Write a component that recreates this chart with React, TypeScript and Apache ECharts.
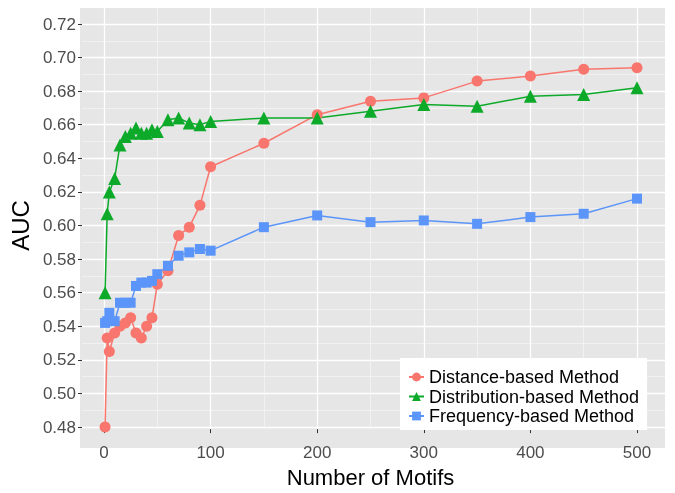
import React, { useEffect, useRef } from "react";
import * as echarts from "echarts";

const motifCounts = [1, 3, 5, 10, 15, 20, 25, 30, 35, 40, 45, 50, 60, 70, 80, 90, 100, 150, 200, 250, 300, 350, 400, 450, 500];
const distanceAUC = [0.48, 0.533, 0.525, 0.536, 0.540, 0.542, 0.545, 0.536, 0.533, 0.540, 0.545, 0.565, 0.573, 0.594, 0.599, 0.612, 0.635, 0.649, 0.666, 0.674, 0.676, 0.686, 0.689, 0.693, 0.694];
const distributionAUC = [0.560, 0.607, 0.620, 0.628, 0.648, 0.653, 0.655, 0.658, 0.655, 0.655, 0.657, 0.656, 0.663, 0.664, 0.661, 0.660, 0.662, 0.664, 0.664, 0.668, 0.672, 0.671, 0.677, 0.678, 0.682];
const frequencyAUC = [0.542, 0.543, 0.548, 0.543, 0.554, 0.554, 0.554, 0.564, 0.566, 0.566, 0.567, 0.571, 0.576, 0.582, 0.584, 0.586, 0.585, 0.599, 0.606, 0.602, 0.603, 0.601, 0.605, 0.607, 0.616];
const seriesNames = ["Distance-based Method", "Distribution-based Method", "Frequency-based Method"];
const xTicks = [0, 100, 200, 300, 400, 500];
const yTicks = [0.48, 0.5, 0.52, 0.54, 0.56, 0.58, 0.6, 0.62, 0.64, 0.66, 0.68, 0.7, 0.72];

const FONT = "Liberation Sans, Arial, sans-serif";

export default function App() {
  const ref = useRef<HTMLDivElement>(null);
  useEffect(() => {
    if (!ref.current) return;
    const chart = echarts.init(ref.current, null, { renderer: "svg" });
    const colors = ["#F8766D", "#0DAA2A", "#5B95F9"];
    const symbols = ["circle", "triangle", "rect"];
    const sizes = [11, 13, 10];
    const values = [distanceAUC, distributionAUC, frequencyAUC];
    const xMin = xTicks[0], xMax = xTicks[xTicks.length - 1];
    const yMin = yTicks[0], yMax = yTicks[yTicks.length - 1];
    const hiddenAxis = (gridIndex: number, min?: number, max?: number) => ({
      type: "value", gridIndex, min, max, show: false, splitLine: { show: false },
    });
    chart.setOption({
      animation: false,
      grid: [
        { left: 80, top: 8, width: 585, height: 440, show: true, backgroundColor: "#E6E6E6", borderWidth: 0 },
        { left: 104, top: 24, width: 533, height: 403 },
        { left: 104, top: 8, width: 533, height: 440 },
        { left: 80, top: 24, width: 585, height: 403 },
      ],
      xAxis: [
        hiddenAxis(0, 0, 1),
        hiddenAxis(1, xMin, xMax),
        {
          type: "value", gridIndex: 2, min: xMin, max: xMax, interval: 100,
          axisLine: { show: false },
          axisTick: { show: true, length: 4, lineStyle: { color: "#333", width: 1 } },
          axisLabel: { color: "#4D4D4D", fontSize: 17, fontFamily: FONT, margin: 15 },
          splitLine: { show: true, lineStyle: { color: "#FFFFFF", width: 1.3 } },
          minorTick: { show: false, splitNumber: 2 },
          minorSplitLine: { show: true, lineStyle: { color: "#F5F5F5", width: 0.7 } },
          name: "Number of Motifs", nameLocation: "middle", nameGap: 32,
          nameTextStyle: { color: "#000", fontSize: 22, fontFamily: FONT },
        },
        hiddenAxis(3, 0, 1),
      ],
      yAxis: [
        hiddenAxis(0, 0, 1),
        hiddenAxis(1, yMin, yMax),
        hiddenAxis(2, 0, 1),
        {
          type: "value", gridIndex: 3, min: yMin, max: yMax, interval: 0.02,
          axisLine: { show: false },
          axisTick: { show: true, length: 4, lineStyle: { color: "#333", width: 1 } },
          axisLabel: { color: "#4D4D4D", fontSize: 17, fontFamily: FONT, margin: 6, formatter: (v: number) => v.toFixed(2) },
          splitLine: { show: true, lineStyle: { color: "#FFFFFF", width: 1.3 } },
          minorTick: { show: false, splitNumber: 2 },
          minorSplitLine: { show: true, lineStyle: { color: "#F5F5F5", width: 0.7 } },
          name: "AUC", nameLocation: "middle", nameGap: 45, nameRotate: 90,
          nameTextStyle: { color: "#000", fontSize: 24, fontFamily: FONT },
        },
      ],
      legend: {
        left: 400, top: 358, orient: "vertical",
        backgroundColor: "#FFFFFF", padding: [10, 8, 5, 8], itemGap: 1.5,
        itemWidth: 15, itemHeight: 11,
        textStyle: { color: "#000", fontSize: 18, fontFamily: FONT },
        data: seriesNames,
      },
      series: seriesNames.map((name, i) => ({
        name, type: "line", xAxisIndex: 1, yAxisIndex: 1, clip: false,
        symbol: symbols[i], symbolSize: sizes[i],
        itemStyle: { color: colors[i] },
        lineStyle: { color: colors[i], width: 1.5 },
        data: motifCounts.map((x, j) => [x, values[i][j]]),
      })),
    });
    return () => chart.dispose();
  }, []);
  return <div ref={ref} style={{ position: "fixed", left: 0, top: 0, width: 675, height: 493 }} />;
}
